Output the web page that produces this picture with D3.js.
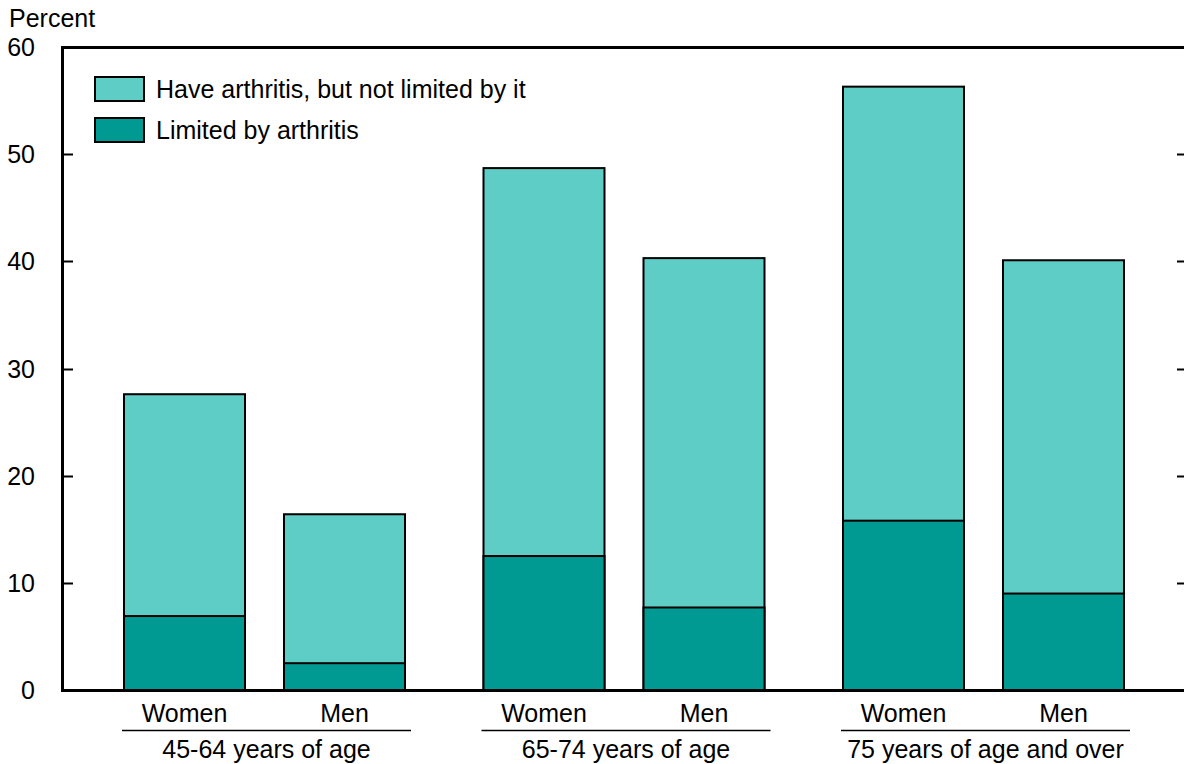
<!DOCTYPE html>
<html><head><meta charset="utf-8">
<script src="https://cdn.jsdelivr.net/npm/d3@7"></script>
<style>body{margin:0;background:#fff}text{font-family:"Liberation Sans",Arial,sans-serif;fill:#000}</style>
</head><body><svg id="c" width="1184" height="764"></svg>
<script>
const groups = ["45-64 years of age","65-74 years of age","75 years of age and over"];
const sexes = ["Women","Men"];
const limited = [6.9, 2.5, 12.5, 7.7, 15.8, 9.0];
const total = [27.6, 16.4, 48.7, 40.3, 56.3, 40.1];
const yTicks = [0,10,20,30,40,50,60];
const legendLabels = ["Have arthritis, but not limited by it","Limited by arthritis"];
const colLight = "#5ecdc6", colDark = "#009a93";
const FS = 25;

const svg = d3.select("#c");
const y = d3.scaleLinear().domain([0,60]).range([690,47]);
const bars = [];
groups.forEach((g,gi)=>sexes.forEach((s,si)=>{const i=gi*2+si;bars.push({g,gi,s,si,lim:limited[i],tot:total[i]});}));
const barX = d=> 124 + d.gi*359.5 + d.si*160;
const bw = 121;

// axes lines
svg.append("line").attr("x1",62.5).attr("x2",62.5).attr("y1",46).attr("y2",691.5).attr("stroke","#000").attr("stroke-width",3);
svg.append("line").attr("x1",61).attr("x2",1184).attr("y1",47.5).attr("y2",47.5).attr("stroke","#000").attr("stroke-width",3);
const inner = yTicks.filter(t=>t>0&&t<60);
// left inward ticks
svg.selectAll(".lt").data(inner).enter().append("line")
  .attr("x1",63).attr("x2",73).attr("y1",d=>Math.round(y(d))+0.5).attr("y2",d=>Math.round(y(d))+0.5).attr("stroke","#000").attr("stroke-width",2);
// right ticks
svg.selectAll(".rt").data(inner).enter().append("line")
  .attr("x1",1177).attr("x2",1184).attr("y1",d=>Math.round(y(d))+0.5).attr("y2",d=>Math.round(y(d))+0.5).attr("stroke","#000").attr("stroke-width",2);
// left tick labels
svg.selectAll(".yl").data(yTicks).enter().append("text")
  .attr("x",35).attr("y",d=>y(d)+9).attr("text-anchor","end").attr("font-size",FS).text(d=>d);
svg.append("text").attr("x",9).attr("y",27).attr("font-size",FS).text("Percent");

// bars
const bg = svg.append("g");
bg.selectAll(".tot").data(bars).enter().append("rect")
  .attr("x",d=>barX(d)).attr("width",bw).attr("y",d=>y(d.tot)).attr("height",d=>y(0)-y(d.tot))
  .attr("fill",colLight).attr("stroke","#000").attr("stroke-width",2);
bg.selectAll(".lim").data(bars).enter().append("rect")
  .attr("x",d=>barX(d)).attr("width",bw).attr("y",d=>y(d.lim)).attr("height",d=>y(0)-y(d.lim))
  .attr("fill",colDark).attr("stroke","#000").attr("stroke-width",2);
svg.append("line").attr("x1",61).attr("x2",1184).attr("y1",690.5).attr("y2",690.5).attr("stroke","#000").attr("stroke-width",3);

// x labels
svg.selectAll(".xl").data(bars).enter().append("text")
  .attr("x",d=>barX(d)+bw/2).attr("y",722).attr("text-anchor","middle").attr("font-size",FS).text(d=>d.s);
groups.forEach((g,gi)=>{
  const x0 = 124 + gi*359.5 - 2, x1 = 124 + gi*359.5 + 160 + bw + 6;
  svg.append("line").attr("x1",x0).attr("x2",x1).attr("y1",730.5).attr("y2",730.5).attr("stroke","#000").attr("stroke-width",1.5);
  svg.append("text").attr("x",(x0+x1)/2).attr("y",758).attr("text-anchor","middle").attr("font-size",FS).text(g);
});

// legend
const lg = svg.append("g");
[colLight,colDark].forEach((c,i)=>{
  lg.append("rect").attr("x",95).attr("y",77+i*41).attr("width",49).attr("height",24).attr("fill",c).attr("stroke","#000").attr("stroke-width",2);
  lg.append("text").attr("x",156).attr("y",98+i*41).attr("font-size",FS).text(legendLabels[i]);
});
</script></body></html>
